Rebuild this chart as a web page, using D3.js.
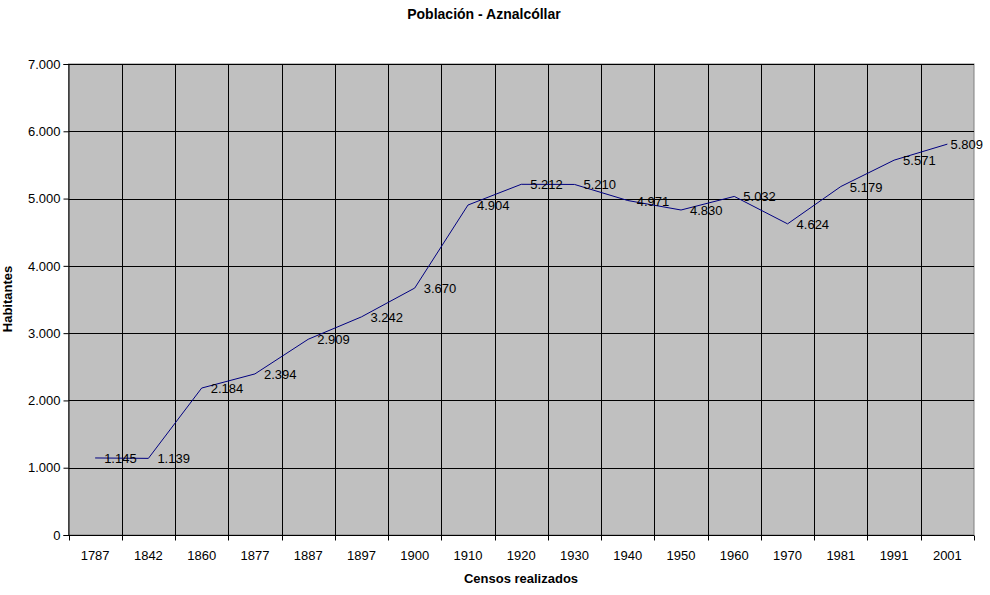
<!DOCTYPE html>
<html><head><meta charset="utf-8">
<script src="https://cdn.jsdelivr.net/npm/d3@7"></script>
<style>body{margin:0;background:#fff;}svg{display:block;font-family:"Liberation Sans",Arial,sans-serif;}</style>
</head><body><svg id="c" width="990" height="595"></svg>
<script>
const years = ["1787","1842","1860","1877","1887","1897","1900","1910","1920","1930","1940","1950","1960","1970","1981","1991","2001"];
const population = [1145,1139,2184,2394,2909,3242,3670,4904,5212,5210,4971,4830,5032,4624,5179,5571,5809];
const yTicks = [0,1000,2000,3000,4000,5000,6000,7000];
const title = "Población - Aznalcóllar";
const xTitle = "Censos realizados";
const yTitle = "Habitantes";

const svg = d3.select("#c");
const L = 68.5, R = 974, T = 64, B = 535;
const fmt = v => d3.format(",")(v).replace(/,/g, ".");
const x = d3.scaleBand().domain(years).range([L, R]).padding(0);
const y = d3.scaleLinear().domain([0, 7000]).range([B, T]);

svg.append("rect").attr("x", L).attr("y", T).attr("width", R - L).attr("height", B - T)
  .attr("fill", "#c0c0c0").attr("stroke", "#808080").attr("stroke-width", 1);

// horizontal gridlines
svg.append("g").selectAll("line").data(yTicks.slice(1)).join("line")
  .attr("x1", L).attr("x2", R).attr("y1", d => Math.round(y(d)) + 0.5).attr("y2", d => Math.round(y(d)) + 0.5)
  .attr("stroke", "#000").attr("stroke-width", 1);
// vertical gridlines at category boundaries
svg.append("g").selectAll("line").data(years.slice(1)).join("line")
  .attr("x1", d => Math.round(x(d)) + 0.5).attr("x2", d => Math.round(x(d)) + 0.5)
  .attr("y1", T).attr("y2", B).attr("stroke", "#000").attr("stroke-width", 1);

// y axis
const ya = d3.axisLeft(y).tickValues(yTicks).tickFormat(fmt).tickSize(5).tickPadding(3);
const gy = svg.append("g").attr("transform", `translate(${L},0)`).call(ya);
gy.select(".domain").attr("stroke", "#000");
gy.selectAll("text").attr("font-size", 13).attr("font-family", "Liberation Sans, Arial, sans-serif").attr("fill", "#000");

// x axis
const gx = svg.append("g").attr("transform", `translate(0,${B + 0.5})`);
gx.append("line").attr("x1", L).attr("x2", R).attr("stroke", "#000");
gx.selectAll("line.t").data(years.concat(["end"])).join("line").attr("class", "t")
  .attr("x1", (d, i) => i < years.length ? Math.round(x(d)) + 0.5 : R + 0.5)
  .attr("x2", (d, i) => i < years.length ? Math.round(x(d)) + 0.5 : R + 0.5)
  .attr("y1", 0).attr("y2", 5).attr("stroke", "#000");
gx.selectAll("text").data(years).join("text")
  .attr("x", d => x(d) + x.bandwidth() / 2).attr("y", 24)
  .attr("text-anchor", "middle").attr("font-size", 13).text(d => d);

// line
const line = d3.line().x((d, i) => x(years[i]) + x.bandwidth() / 2).y(d => y(d));
svg.append("path").datum(population).attr("d", line).attr("fill", "none")
  .attr("stroke", "#000080").attr("stroke-width", 1);

// data labels
svg.append("g").selectAll("text").data(population).join("text")
  .attr("x", (d, i) => x(years[i]) + x.bandwidth() / 2 + 9)
  .attr("y", d => y(d) + 5)
  .attr("font-size", 13).attr("fill", "#000").text(d => fmt(d))
  .each(function() {
    const w = this.getComputedTextLength();
    const x0 = +this.getAttribute("x");
    if (x0 + w > 983) this.setAttribute("x", 983 - w);
  });

// titles
svg.append("text").attr("x", 484).attr("y", 19).attr("text-anchor", "middle")
  .attr("font-size", 14).attr("font-weight", "bold").text(title);
svg.append("text").attr("x", 521).attr("y", 583).attr("text-anchor", "middle")
  .attr("font-size", 13).attr("font-weight", "bold").text(xTitle);
svg.append("text").attr("transform", "translate(12,299) rotate(-90)").attr("text-anchor", "middle")
  .attr("font-size", 13).attr("font-weight", "bold").text(yTitle);
</script></body></html>
